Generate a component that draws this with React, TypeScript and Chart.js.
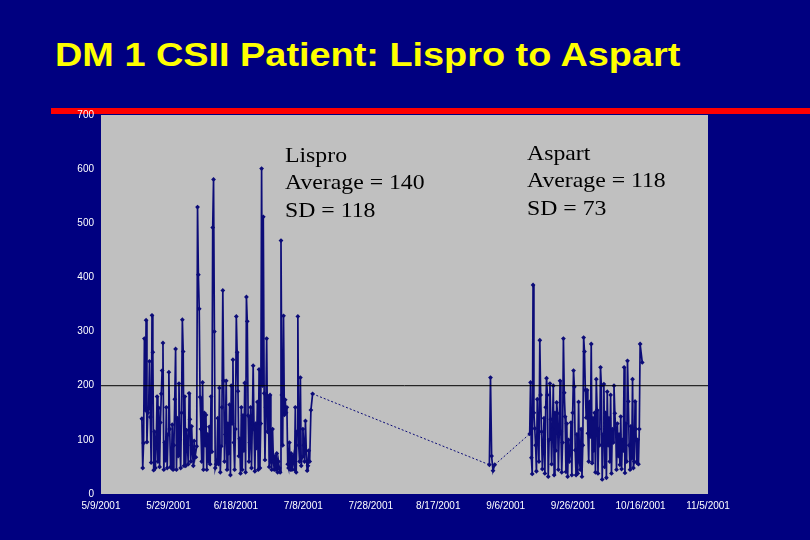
import { useEffect, useRef } from "react";
import { Chart, registerables } from "chart.js";

Chart.register(...registerables);

const titleText = "DM 1 CSII Patient: Lispro to Aspart";
const lisproNote = ["Lispro", "Average = 140", "SD = 118"];
const aspartNote = ["Aspart", "Average = 118", "SD = 73"];

const xTickDays = [0, 20, 40, 60, 80, 100, 120, 140, 160, 180];
const xTickLabels = [
  "5/9/2001",
  "5/29/2001",
  "6/18/2001",
  "7/8/2001",
  "7/28/2001",
  "8/17/2001",
  "9/6/2001",
  "9/26/2001",
  "10/16/2001",
  "11/5/2001",
];
const yTickValues = [0, 100, 200, 300, 400, 500, 600, 700];
const targetGlucose = 200;

// days counted from 5/9/2001; each row = one day's readings (mg/dL)
const lisproFirstDay = 12;
const lisproDaily: number[][] = [
  [139, 48, 94, 287],
  [155, 321, 96, 150],
  [158, 245, 142, 58],
  [330, 262, 44, 115],
  [48, 92, 180, 60],
  [159, 50, 132, 185],
  [228, 279, 45, 95],
  [62, 160, 48, 110],
  [225, 120, 50, 48],
  [128, 45, 90, 175],
  [268, 45, 140, 70],
  [204, 100, 48, 150],
  [322, 263, 52, 180],
  [52, 118, 90, 55],
  [186, 138, 60, 125],
  [78, 52, 98, 68],
  [68, 88, 530, 405],
  [342, 179, 120, 60],
  [206, 45, 150, 90],
  [146, 45, 110, 60],
  [124, 55, 180, 78],
  [492, 581, 300, 48],
  [55, 62, 140, 55],
  [196, 40, 88, 160],
  [376, 209, 60, 110],
  [209, 45, 130, 75],
  [165, 35, 200, 130],
  [248, 95, 45, 120],
  [328, 262, 190, 70],
  [102, 38, 160, 45],
  [145, 80, 205, 40],
  [364, 319, 145, 60],
  [95, 160, 48, 130],
  [237, 120, 42, 130],
  [85, 170, 45, 230],
  [48, 130, 601, 200],
  [512, 186, 63, 160],
  [287, 115, 180, 50],
  [183, 60, 45, 120],
  [60, 45, 70, 45],
  [75, 40, 60, 48],
  [40, 468, 183, 90],
  [329, 146, 174, 150],
  [160, 55, 48, 95],
  [45, 75, 45, 60],
  [70, 45, 160, 40],
  [115, 328, 90, 60],
  [215, 52, 68, 120],
  [90, 60, 135, 80],
  [43, 52, 80, 60],
  [155, 185],
];

const bridgeFirstDay = 115;
const bridgeDaily: number[][] = [
  [54, 215, 70],
  [43, 54],
];

const aspartFirstDay = 127;
const aspartDaily: number[][] = [
  [111, 206, 67, 37],
  [386, 150, 121, 90],
  [42, 175, 110, 60],
  [284, 183, 115, 46],
  [90, 140, 38, 160],
  [214, 183, 32, 100],
  [204, 138, 55, 120],
  [200, 35, 150, 80],
  [169, 149, 45, 110],
  [209, 115, 40, 95],
  [287, 187, 143, 41],
  [130, 32, 100, 60],
  [76, 132, 35, 150],
  [228, 198, 81, 35],
  [110, 38, 170, 60],
  [45, 120, 32, 90],
  [289, 263, 192, 141],
  [192, 112, 60, 170],
  [106, 277, 57, 140],
  [80, 150, 40, 212],
  [155, 38, 120, 90],
  [234, 200, 27, 110],
  [203, 50, 150, 30],
  [189, 90, 140, 60],
  [183, 38, 120, 95],
  [200, 149, 121, 45],
  [130, 70, 110, 54],
  [143, 46, 100, 80],
  [234, 39, 130, 60],
  [246, 171, 90, 45],
  [125, 66, 212, 48],
  [60, 171, 120, 58],
  [100, 55, 120, 277],
  [243],
];

const NAVY_BG = "#000080";
const LINE_NAVY = "#0c0c78";
const PLOT_GRAY = "#c0c0c0";

function toPoints(firstDay: number, daily: number[][]) {
  const pts: { x: number; y: number }[] = [];
  daily.forEach((row, i) =>
    row.forEach((v, j) => pts.push({ x: firstDay + i + (j + 0.5) / row.length, y: v }))
  );
  return pts;
}

const plotBackground = {
  id: "plotBackground",
  beforeDraw(chart: any) {
    const { ctx, chartArea: a } = chart;
    ctx.save();
    ctx.fillStyle = PLOT_GRAY;
    ctx.fillRect(a.left, a.top, a.right - a.left, a.bottom - a.top);
    ctx.restore();
  },
};

export default function App() {
  const canvasRef = useRef<HTMLCanvasElement | null>(null);

  useEffect(() => {
    if (!canvasRef.current) return;
    const glucose = [
      ...toPoints(lisproFirstDay, lisproDaily),
      ...toPoints(bridgeFirstDay, bridgeDaily),
      ...toPoints(aspartFirstDay, aspartDaily),
    ];
    const xMin = xTickDays[0];
    const xMax = xTickDays[xTickDays.length - 1];
    const chart = new Chart(canvasRef.current, {
      type: "line",
      data: {
        datasets: [
          {
            data: [
              { x: xMin, y: targetGlucose },
              { x: xMax, y: targetGlucose },
            ],
            borderColor: "#000000",
            borderWidth: 1,
            pointRadius: 0,
            order: 0,
          },
          {
            data: glucose,
            borderColor: LINE_NAVY,
            backgroundColor: LINE_NAVY,
            borderWidth: 1.7,
            pointRadius: 2.4,
            pointStyle: "rectRot",
            pointBorderWidth: 0,
            order: 1,
            segment: {
              borderDash: (ctx: any) => (ctx.p1.parsed.x - ctx.p0.parsed.x > 3 ? [2, 2] : undefined),
              borderWidth: (ctx: any) => (ctx.p1.parsed.x - ctx.p0.parsed.x > 3 ? 1 : undefined),
            },
          },
        ],
      },
      options: {
        animation: false,
        responsive: false,
        maintainAspectRatio: false,
        layout: { padding: { left: 0, right: 102, top: 115, bottom: 0 } },
        plugins: { legend: { display: false }, tooltip: { enabled: false } },
        scales: {
          x: {
            type: "linear",
            min: xMin,
            max: xMax,
            afterBuildTicks: (scale: any) => {
              scale.ticks = xTickDays.map((v) => ({ value: v }));
            },
            afterFit: (scale: any) => {
              scale.height = 46;
            },
            grid: { display: false, drawTicks: false },
            border: { display: false },
            ticks: {
              autoSkip: false,
              maxRotation: 0,
              padding: 6,
              color: "#ffffff",
              font: { family: "Arial, 'Liberation Sans', sans-serif", size: 10 },
              callback: (_v: any, i: number) => xTickLabels[i],
            },
          },
          y: {
            min: yTickValues[0],
            max: yTickValues[yTickValues.length - 1],
            afterBuildTicks: (scale: any) => {
              scale.ticks = yTickValues.map((v) => ({ value: v }));
            },
            afterFit: (scale: any) => {
              scale.width = 101;
            },
            grid: { display: false, drawTicks: false },
            border: { display: false },
            ticks: {
              padding: 7,
              color: "#ffffff",
              font: { family: "Arial, 'Liberation Sans', sans-serif", size: 10 },
              callback: (v: any) => String(v),
            },
          },
        },
      },
      plugins: [plotBackground],
    } as any);
    return () => chart.destroy();
  }, []);

  const noteStyle = (left: number, top: number): React.CSSProperties => ({
    position: "absolute",
    left,
    top,
    fontFamily: "'Liberation Serif', 'Times New Roman', serif",
    fontSize: 22,
    lineHeight: "27.7px",
    color: "#000000",
    whiteSpace: "nowrap",
    transform: "scaleX(1.08)",
    transformOrigin: "left top",
  });

  return (
    <div
      style={{
        position: "absolute",
        left: 0,
        top: 0,
        width: 810,
        height: 540,
        background: NAVY_BG,
        overflow: "hidden",
      }}
    >
      <div
        style={{
          position: "absolute",
          left: 55,
          top: 38,
          fontFamily: "Arial, 'Liberation Sans', sans-serif",
          fontWeight: "bold",
          fontSize: 33.5,
          lineHeight: "33.5px",
          color: "#ffff00",
          whiteSpace: "nowrap",
          transform: "scaleX(1.13)",
          transformOrigin: "left top",
        }}
      >
        {titleText}
      </div>
      <div
        style={{
          position: "absolute",
          left: 51,
          top: 108,
          width: 759,
          height: 6,
          background: "#ff0000",
        }}
      />
      <canvas
        ref={canvasRef}
        width={810}
        height={540}
        style={{ position: "absolute", left: 0, top: 0, width: 810, height: 540 }}
      />
      <div style={noteStyle(285, 140.5)}>
        {lisproNote.map((t) => (
          <div key={t}>{t}</div>
        ))}
      </div>
      <div style={noteStyle(527, 138.5)}>
        {aspartNote.map((t) => (
          <div key={t}>{t}</div>
        ))}
      </div>
    </div>
  );
}
